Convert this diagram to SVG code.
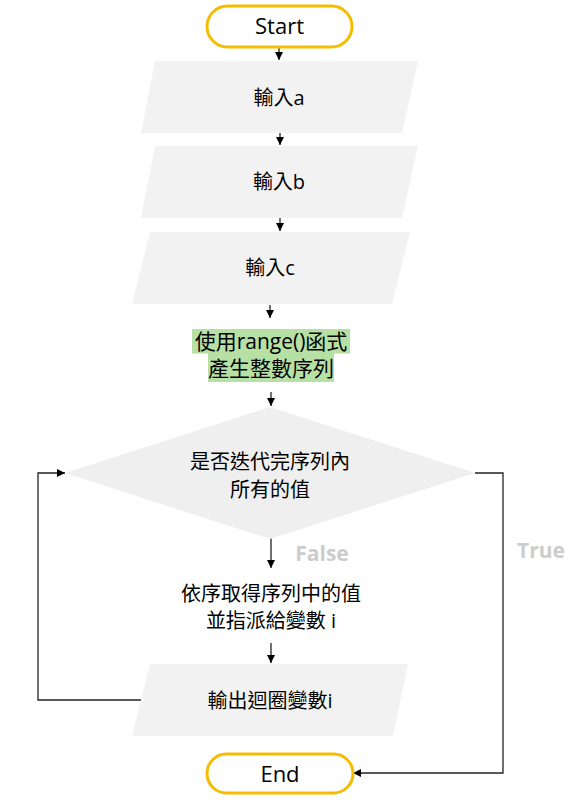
<svg xmlns="http://www.w3.org/2000/svg" width="586" height="802" viewBox="0 0 586 802">
<defs>
<style>
text{font-family:"Open Sans","Noto Sans CJK TC",sans-serif;fill:#000;text-anchor:middle}
.t{font-size:20px}
.term{fill:#fff;stroke:#f5bd00;stroke-width:3}
.io{fill:#f2f2f2}
.dec{fill:#efefef}
.hl{fill:#b6e0a4}
.lbl{font-size:21px;font-weight:bold;fill:#cccccc}
.c{fill:none;stroke:#222;stroke-width:1.3}
</style>
<marker id="ah" viewBox="0 0 10 10" refX="10" refY="5" markerWidth="8" markerHeight="8" markerUnits="userSpaceOnUse" orient="auto">
<path d="M0,0 L10,5 L0,10 Z" fill="#000"/>
</marker>
</defs>
<g id="connectors">
<path class="c" d="M279,47 V60" marker-end="url(#ah)"/>
<path class="c" d="M280,133 V145" marker-end="url(#ah)"/>
<path class="c" d="M280,218 V231" marker-end="url(#ah)"/>
<path class="c" d="M270,305 V318" marker-end="url(#ah)"/>
<path class="c" d="M271,392 V406" marker-end="url(#ah)"/>
<path class="c" d="M271,538 V568" marker-end="url(#ah)"/>
<path class="c" d="M271,643 V663" marker-end="url(#ah)"/>
<path class="c" d="M141,700 H38 V473 H65" marker-end="url(#ah)"/>
<path class="c" d="M475,473 H503 V773 H353" marker-end="url(#ah)"/>
<text class="lbl" x="322" y="561">False</text>
<text class="lbl" x="541" y="558">True</text>
</g>
<g id="start">
<rect class="term" x="207" y="6" width="145" height="41" rx="20.5"/>
<text x="279.5" y="34" style="font-size:22px">Start</text>
</g>
<g id="input-a">
<polygon class="io" points="155,61 418,61 402,133 141,133"/>
<text class="t" x="279" y="105">輸入a</text>
</g>
<g id="input-b">
<polygon class="io" points="155,146 418,146 402,218 141,218"/>
<text class="t" x="279" y="189">輸入b</text>
</g>
<g id="input-c">
<polygon class="io" points="150,232 410,232 392,304 132,304"/>
<text class="t" x="270" y="275">輸入c</text>
</g>
<g id="range">
<rect class="hl" x="192" y="329" width="158" height="24.5"/>
<rect class="hl" x="208" y="353" width="126" height="29"/>
<text x="271" y="349" style="font-size:21px">使用range()函式</text>
<text x="271" y="376" style="font-size:21px">產生整數序列</text>
</g>
<g id="decision">
<polygon class="dec" points="270,407 475,473 270,539 65,473"/>
<text class="t" x="270" y="469">是否迭代完序列內</text>
<text class="t" x="270" y="497">所有的值</text>
</g>
<g id="assign">
<text class="t" x="271" y="601">依序取得序列中的值</text>
<text class="t" x="271" y="628">並指派給變數 i</text>
</g>
<g id="output">
<polygon class="io" points="150,664 408,664 393,736 132,736"/>
<text class="t" x="270" y="708">輸出迴圈變數i</text>
</g>
<g id="end">
<rect class="term" x="207" y="754" width="146" height="39" rx="19.5"/>
<text x="280" y="782" style="font-size:22px">End</text>
</g>
</svg>
